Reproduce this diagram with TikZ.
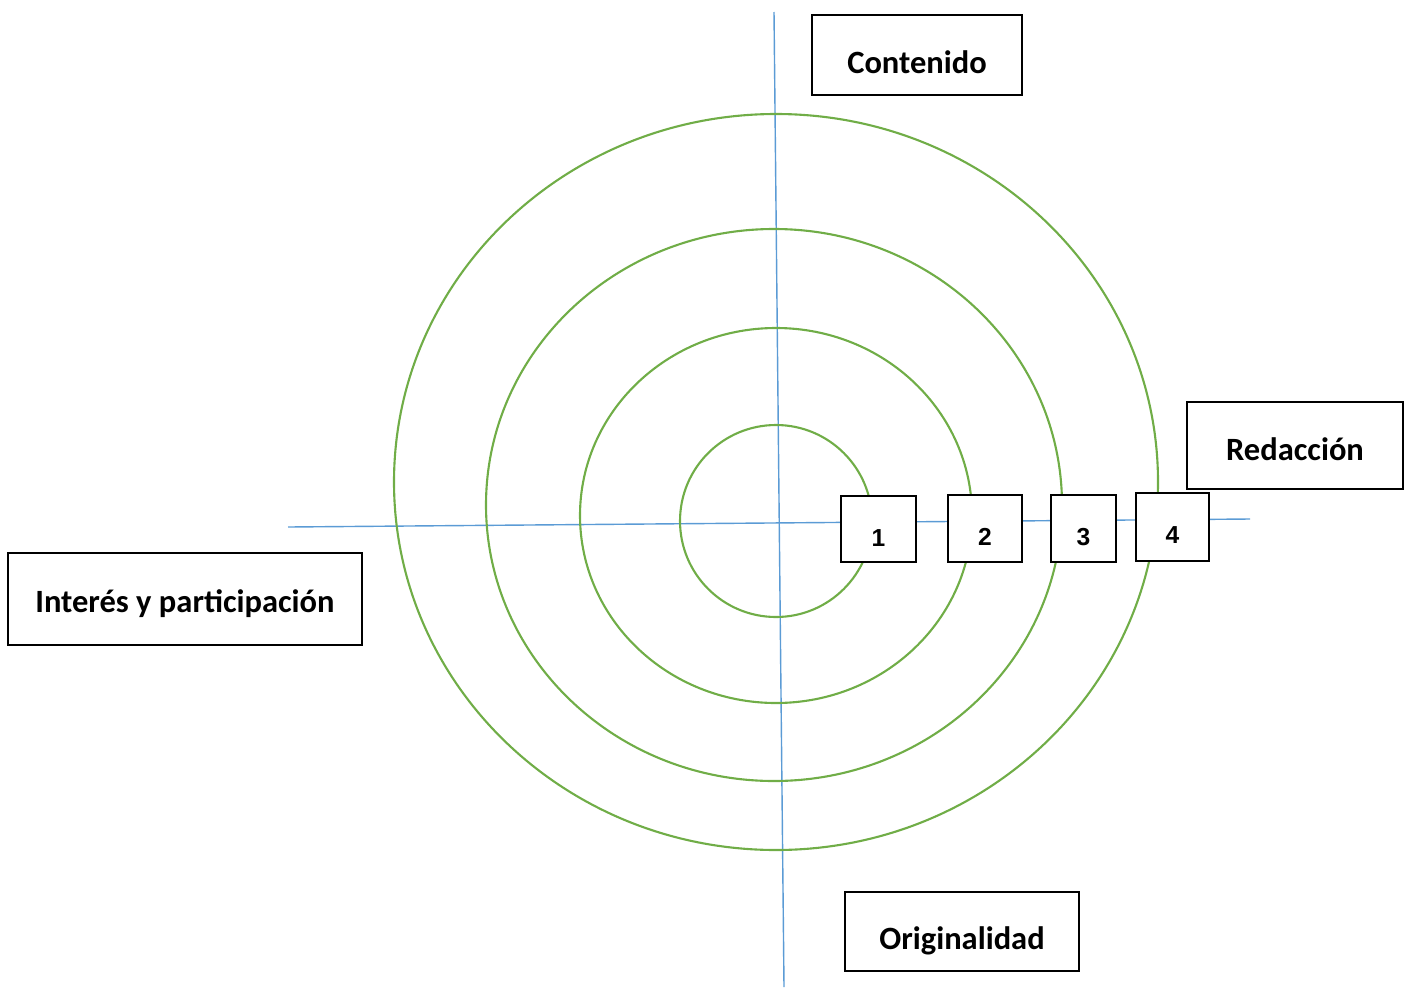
\documentclass[tikz,border=0pt]{standalone}
\usepackage{fontspec}
\setmainfont{Carlito}
\newfontfamily\numfont{Liberation Sans}
\definecolor{ringgreen}{RGB}{112,173,71}
\definecolor{axisblue}{RGB}{91,155,213}
\tikzset{
  lbl/.style={draw=black, line width=1.1pt, fill=white, font=\fontsize{18.5}{22}\selectfont\bfseries, inner sep=0pt, text depth=0pt},
  num/.style={draw=black, line width=1.1pt, fill=white, font=\numfont\fontsize{14}{16}\selectfont\bfseries, inner sep=0pt, text depth=0pt},
  ring/.style={draw=ringgreen, line width=1.2pt},
  axis/.style={draw=axisblue, line width=0.8pt}
}

\begin{document}
\begin{tikzpicture}[x=0.02cm, y=-0.02cm]
    \useasboundingbox (0,0) rectangle (1405,987);
    \coordinate (top) at (774,12);
    \coordinate (bottom) at (784,987);
    \coordinate (left) at (288,527);
    \coordinate (right) at (1250,519);
    \draw[axis] (top) -- (bottom);
    \draw[axis] (left) -- (right);
    \draw[ring] (776,482) ellipse [x radius=382, y radius=368];
    \draw[ring] (774,505) ellipse [x radius=288, y radius=276];
    \draw[ring] (776,515.5) ellipse [x radius=196, y radius=187.5];
    \draw[ring] (776,521) ellipse [x radius=96, y radius=96];
    \node[lbl, minimum width=4.2cm, minimum height=1.6cm, text height=21.5pt] (contenido) at (917,55) {Contenido};
    \node[lbl, minimum width=4.32cm, minimum height=1.74cm, text height=16.5pt] (redaccion) at (1295,445.5) {Redacción};
    \node[lbl, minimum width=7.08cm, minimum height=1.84cm, text height=15pt] (interes) at (185,599) {Interés y participación};
    \node[lbl, minimum width=4.68cm, minimum height=1.58cm, text height=20.3pt] (originalidad) at (962,931.5) {Originalidad};
    \node[num, minimum width=1.5cm, minimum height=1.32cm, text height=20pt] (n1) at (878.5,529) {1};
    \node[num, minimum width=1.48cm, minimum height=1.34cm, text height=19.4pt] (n2) at (985,528.5) {2};
    \node[num, minimum width=1.3cm, minimum height=1.34cm, text height=19.4pt] (n3) at (1083.5,528.5) {3};
    \node[num, minimum width=1.46cm, minimum height=1.36cm, text height=18.5pt] (n4) at (1172.5,527) {4};
\end{tikzpicture}
\end{document}
